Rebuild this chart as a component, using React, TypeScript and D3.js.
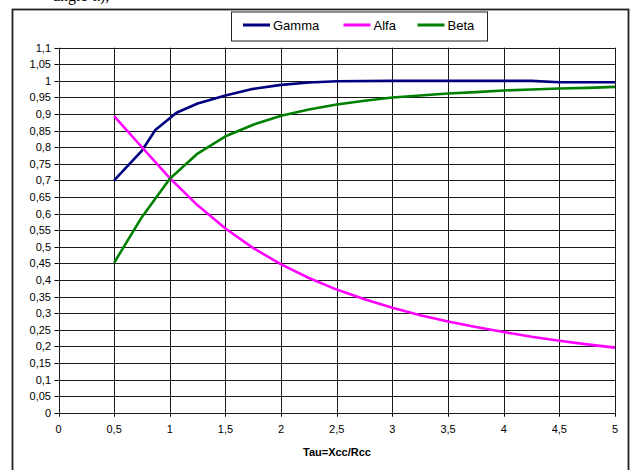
import React from "react";
import * as d3 from "d3";

const tau = [0.5, 0.75, 1, 1.25, 1.5, 1.75, 2, 2.25, 2.5, 2.75, 3, 3.25, 3.5, 3.75, 4, 4.25, 4.5, 4.75, 5];
const alfa = [0.894, 0.8, 0.707, 0.625, 0.555, 0.496, 0.447, 0.406, 0.371, 0.342, 0.316, 0.294, 0.275, 0.258, 0.243, 0.229, 0.217, 0.206, 0.196];
const beta = [0.452, 0.59, 0.705, 0.781, 0.833, 0.868, 0.895, 0.914, 0.929, 0.94, 0.95, 0.956, 0.962, 0.966, 0.971, 0.974, 0.977, 0.979, 0.982];

// gamma was sampled at its own points
const gammaTau = [0.5, 0.75, 0.87, 1.06, 1.25, 1.5, 1.75, 2, 2.25, 2.5, 3, 3.5, 4, 4.25, 4.5, 5];
const gamma = [0.7, 0.79, 0.852, 0.904, 0.932, 0.956, 0.976, 0.988, 0.995, 0.999, 1.0, 1.0, 1.0, 1.0, 0.996, 0.996];

const seriesNames = ["Gamma", "Alfa", "Beta"];
const seriesColors = ["#000080", "#ff00ff", "#008000"];
const seriesX = [gammaTau, tau, tau];
const seriesValues = [gamma, alfa, beta];

const xTicks = d3.range(0, 5.01, 0.5);
const yTicks = d3.range(0, 1.101, 0.05);
const xTitle = "Tau=Xcc/Rcc";

const fmt = (v: number) => String(+v.toFixed(2)).replace(".", ",");

const font = "'Liberation Sans', Arial, sans-serif";

export default function App() {
  const left = 58.5, right = 615, top = 47.7, bottom = 412.7;
  const x = d3.scaleLinear().domain([0, 5]).range([left, right]);
  const y = d3.scaleLinear().domain([0, 1.1]).range([bottom, top]);

  const line = d3
    .line<[number, number]>()
    .x((d) => x(d[0]))
    .y((d) => y(d[1]));

  // legend layout
  const legendX = [243, 343.5, 417.5];

  return (
    <svg
      width={631}
      height={470}
      style={{ position: "absolute", left: 0, top: 0, background: "#fff" }}
    >
      <text x={53} y={1} fontFamily="'Liberation Serif', 'Times New Roman', serif" fontSize={16}>
        angle α),
      </text>
      <rect x={12.5} y={9.5} width={616} height={470} fill="#fff" stroke="#222" strokeWidth={1.8} />

      {/* grid */}
      {yTicks.map((t, i) => (
        <line key={"h" + i} x1={left} x2={right} y1={Math.round(y(t)) + 0.5} y2={Math.round(y(t)) + 0.5} stroke="#1a1a1a" strokeWidth={1} />
      ))}
      {xTicks.map((t, i) => (
        <line key={"v" + i} x1={Math.round(x(t)) + 0.5} x2={Math.round(x(t)) + 0.5} y1={top} y2={bottom} stroke="#1a1a1a" strokeWidth={1} />
      ))}

      {/* y axis */}
      {yTicks.map((t, i) => (
        <g key={"yt" + i}>
          <line x1={left - 4} x2={left} y1={Math.round(y(t)) + 0.5} y2={Math.round(y(t)) + 0.5} stroke="#000" />
          <text x={51} y={y(t) + 4} textAnchor="end" fontFamily={font} fontSize={11} fill="#000">
            {fmt(t)}
          </text>
        </g>
      ))}
      {/* x axis */}
      {xTicks.map((t, i) => (
        <g key={"xt" + i}>
          <line x1={Math.round(x(t)) + 0.5} x2={Math.round(x(t)) + 0.5} y1={bottom} y2={bottom + 4} stroke="#000" />
          <text x={x(t)} y={433} textAnchor="middle" fontFamily={font} fontSize={11} fill="#000">
            {fmt(t)}
          </text>
        </g>
      ))}
      <text x={337} y={456} textAnchor="middle" fontFamily={font} fontSize={11} fontWeight="bold">
        {xTitle}
      </text>

      {/* series */}
      {seriesValues.map((vals, si) => (
        <path
          key={"s" + si}
          d={line(seriesX[si].map((t, i) => [t, vals[i]] as [number, number])) || ""}
          fill="none"
          stroke={seriesColors[si]}
          strokeWidth={2.6}
          strokeLinejoin="round"
        />
      ))}

      {/* legend */}
      <rect x={231.5} y={12} width={256} height={29} fill="#fff" stroke="#222" strokeWidth={1} />
      {seriesNames.map((n, i) => (
        <g key={"lg" + i}>
          <line x1={legendX[i]} x2={legendX[i] + 27} y1={25} y2={25} stroke={seriesColors[i]} strokeWidth={3} />
          <text x={legendX[i] + 30} y={30} fontFamily={font} fontSize={13}>
            {n}
          </text>
        </g>
      ))}
    </svg>
  );
}
